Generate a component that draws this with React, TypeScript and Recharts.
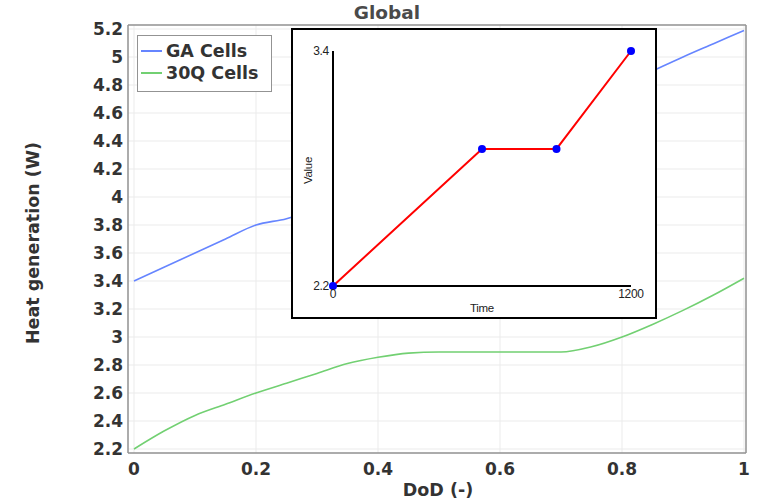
import React from 'react';
import { LineChart, Line, XAxis, YAxis, CartesianGrid } from 'recharts';

// main chart: heat generation vs depth of discharge
const dodValues = [0, 0.05, 0.1, 0.15, 0.2, 0.25, 0.3, 0.35, 0.4, 0.45, 0.5, 0.55, 0.6, 0.65, 0.7, 0.75, 0.8, 0.85, 0.9, 0.95, 1];
const gaCells = [3.4, 3.5, 3.6, 3.7, 3.8, 3.845, 3.92, 4.0, 4.08, 4.17, 4.26, 4.35, 4.44, 4.53, 4.62, 4.71, 4.8, 4.9, 5.0, 5.095, 5.19];
const q30Cells = [2.2, 2.33, 2.44, 2.52, 2.6, 2.67, 2.74, 2.81, 2.855, 2.885, 2.893, 2.893, 2.893, 2.893, 2.893, 2.93, 3.0, 3.09, 3.19, 3.3, 3.42];

const xTicks = [0, 0.2, 0.4, 0.6, 0.8, 1];
const yTicks = [2.2, 2.4, 2.6, 2.8, 3, 3.2, 3.4, 3.6, 3.8, 4, 4.2, 4.4, 4.6, 4.8, 5, 5.2];

// inset "Global" chart
const insetTime = [0, 600, 900, 1200];
const insetValue = [2.2, 2.9, 2.9, 3.4];
const insetXTicks = [0, 1200];
const insetYTicks = [2.2, 3.4];

const SERIES = [
  { key: 'ga', name: 'GA Cells', color: '#6685ff' },
  { key: 'q30', name: '30Q Cells', color: '#72d072' },
];

const mainData = dodValues.map((d, i) => ({ dod: d, ga: gaCells[i], q30: q30Cells[i] }));
const insetData = insetTime.map((t, i) => ({ time: t, value: insetValue[i] }));

const FONT = '"DejaVu Sans", Verdana, sans-serif';
const INSET_FONT = '"Liberation Sans", Arial, sans-serif';
const FRAME = '#939393';
const fmt = (v: number) => String(+v.toFixed(1));

const tickStyle = { fontSize: 17, fontWeight: 700, fill: '#333', fontFamily: FONT };

const YLabel = ({ viewBox }: any) => {
  const x = viewBox.x + 33;
  const y = viewBox.y + viewBox.height / 2 + 4;
  return (
    <text x={x} y={y} transform={`rotate(-90 ${x} ${y})`} textAnchor="middle" dominantBaseline="central"
      style={{ fontSize: 17.5, fontWeight: 700, fill: '#333', fontFamily: FONT }}>
      Heat generation (W)
    </text>
  );
};

const XLabel = ({ viewBox }: any) => (
  <text x={viewBox.x + viewBox.width / 2 + 1} y={viewBox.y + 37} textAnchor="middle" dominantBaseline="central"
    style={{ fontSize: 17.5, fontWeight: 700, fill: '#333', fontFamily: FONT }}>
    DoD (-)
  </text>
);

const InsetXLabel = ({ viewBox }: any) => (
  <text x={viewBox.x + viewBox.width / 2} y={viewBox.y + 22} textAnchor="middle" dominantBaseline="central"
    style={{ fontSize: 11.5, fill: '#222', fontFamily: INSET_FONT, letterSpacing: -0.3 }}>
    Time
  </text>
);

const InsetYLabel = ({ viewBox }: any) => {
  const x = viewBox.x + 17;
  const y = viewBox.y + viewBox.height / 2 + 2;
  return (
    <text x={x} y={y} transform={`rotate(-90 ${x} ${y})`} textAnchor="middle" dominantBaseline="central"
      style={{ fontSize: 11.5, fill: '#222', fontFamily: INSET_FONT, letterSpacing: -0.3 }}>
      Value
    </text>
  );
};

export default function App() {
  const xDomain = [-6 / 610, 1 + 2 / 610];
  const yDomain = [2.2 - 4 / 140, 5.2 + 4 / 140];
  const insetTick = { fontSize: 12, fill: '#222', fontFamily: INSET_FONT, letterSpacing: -0.3 };

  return (
    <div style={{ position: 'absolute', left: 0, top: 0, width: 758, height: 502, background: '#fff', overflow: 'hidden' }}>
      <LineChart width={758} height={502} data={mainData} margin={{ top: 25, right: 12, bottom: 0, left: 0 }}>
        <CartesianGrid stroke="#ebebeb" strokeWidth={1} />
        <XAxis
          dataKey="dod" type="number" domain={xDomain} ticks={xTicks} tickFormatter={fmt}
          height={49} tick={tickStyle} tickLine={false} tickSize={4} tickMargin={6}
          axisLine={{ stroke: FRAME, strokeWidth: 1.5 }} label={<XLabel />} allowDataOverflow
        />
        <XAxis xAxisId="bottomIn" dataKey="dod" type="number" domain={xDomain} ticks={xTicks} orientation="bottom"
          mirror tick={false} tickSize={4} axisLine={false} tickLine={{ stroke: FRAME }} allowDataOverflow />
        <XAxis xAxisId="top" dataKey="dod" type="number" domain={xDomain} ticks={xTicks} orientation="top"
          mirror tick={false} tickSize={4} axisLine={{ stroke: FRAME, strokeWidth: 1.5 }} tickLine={{ stroke: FRAME }} allowDataOverflow />
        <YAxis
          type="number" domain={yDomain} ticks={yTicks} tickFormatter={fmt} width={128}
          tick={tickStyle} tickLine={false} tickSize={3} tickMargin={2}
          axisLine={{ stroke: FRAME, strokeWidth: 1.5 }} label={<YLabel />} allowDataOverflow
        />
        <YAxis yAxisId="leftIn" type="number" domain={yDomain} ticks={yTicks} orientation="left"
          mirror tick={false} tickSize={4} axisLine={false} tickLine={{ stroke: FRAME }} allowDataOverflow />
        <YAxis yAxisId="right" type="number" domain={yDomain} ticks={yTicks} orientation="right"
          mirror tick={false} tickSize={4} axisLine={{ stroke: FRAME, strokeWidth: 1.5 }} tickLine={{ stroke: FRAME }} allowDataOverflow />
        {SERIES.map((s) => (
          <Line key={s.key} type="monotone" dataKey={s.key} name={s.name} stroke={s.color} strokeWidth={1.6}
            dot={false} isAnimationActive={false} />
        ))}
      </LineChart>

      {/* title */}
      <div style={{ position: 'absolute', left: 387, top: 2, transform: 'translateX(-50%)', fontFamily: FONT, fontSize: 18.5, fontWeight: 700, color: '#4a4a4a', whiteSpace: 'nowrap' }}>
        Global
      </div>

      {/* legend */}
      <div style={{ position: 'absolute', left: 137, top: 35, width: 135, height: 57, boxSizing: 'border-box', border: `1.5px solid ${FRAME}`, background: '#fff', padding: '4px 0 0 3px' }}>
        {SERIES.map((s) => (
          <div key={s.key} style={{ display: 'flex', alignItems: 'center', height: 22, fontFamily: FONT, fontSize: 17.5, fontWeight: 700, color: '#333', whiteSpace: 'nowrap' }}>
            <div style={{ width: 21, height: 1.5, background: s.color, marginRight: 4, flexShrink: 0 }} />
            {s.name}
          </div>
        ))}
      </div>

      {/* inset */}
      <div style={{ position: 'absolute', left: 291, top: 28, width: 366, height: 291, background: '#fff' }}>
        <LineChart width={366} height={291} data={insetData} margin={{ top: 23, right: 26, bottom: 0, left: 0 }}>
          <XAxis dataKey="time" type="number" domain={[0, 1200]} ticks={insetXTicks} height={33}
            tick={insetTick} tickLine={false} tickSize={3} tickMargin={0}
            axisLine={{ stroke: '#000', strokeWidth: 2 }} label={<InsetXLabel />} />
          <YAxis type="number" domain={[2.2, 3.4]} ticks={insetYTicks} width={42} tickFormatter={fmt}
            tick={insetTick} tickLine={false} tickSize={4} tickMargin={0}
            axisLine={{ stroke: '#000', strokeWidth: 2 }} label={<InsetYLabel />} />
          <Line type="linear" dataKey="value" stroke="#ff0000" strokeWidth={2}
            dot={{ r: 4, fill: '#0000ff', stroke: 'none' }} isAnimationActive={false} />
        </LineChart>
        <div style={{ position: 'absolute', inset: 0, border: '2px solid #000', pointerEvents: 'none' }} />
      </div>
    </div>
  );
}
